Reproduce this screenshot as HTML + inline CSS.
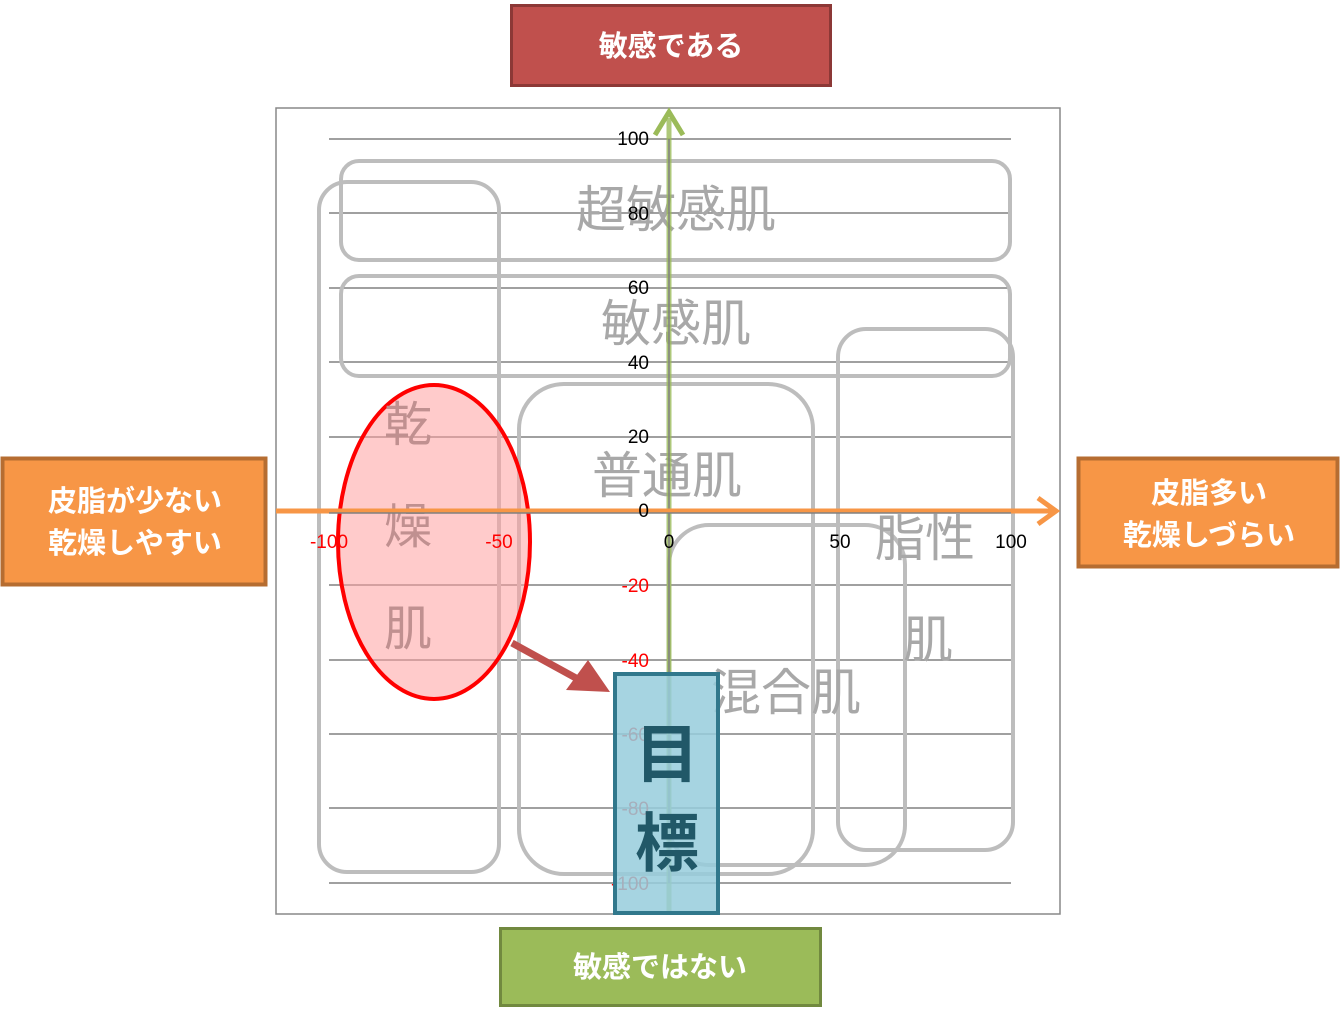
<!DOCTYPE html>
<html><head><meta charset="utf-8"><style>
html,body{margin:0;padding:0;background:#fff;width:1341px;height:1010px;overflow:hidden}
svg text{font-family:"Liberation Sans","Noto Sans CJK JP",sans-serif}
</style></head><body>
<svg width="1341" height="1010" viewBox="0 0 1341 1010" xmlns="http://www.w3.org/2000/svg">
<rect x="276" y="108" width="784" height="806" fill="#fff" stroke="#888" stroke-width="1.5"/>
<g stroke="#808080" stroke-width="1.5">
<line x1="329" y1="139" x2="1011" y2="139"/><line x1="329" y1="213" x2="1011" y2="213"/>
<line x1="329" y1="288" x2="1011" y2="288"/><line x1="329" y1="362" x2="1011" y2="362"/>
<line x1="329" y1="437" x2="1011" y2="437"/><line x1="329" y1="585" x2="1011" y2="585"/>
<line x1="329" y1="660" x2="1011" y2="660"/><line x1="329" y1="734" x2="1011" y2="734"/>
<line x1="329" y1="808" x2="1011" y2="808"/><line x1="329" y1="883" x2="1011" y2="883"/>
</g>
<g fill="none" stroke="#bdbdbd" stroke-width="4">
<rect x="319" y="182" width="180" height="690" rx="28"/>
<rect x="341" y="161" width="669" height="99" rx="18"/>
<rect x="341" y="276" width="669" height="100" rx="18"/>
<rect x="519" y="384" width="294" height="490" rx="45"/>
<rect x="838" y="329" width="175" height="521" rx="28"/>
<rect x="669" y="525" width="236" height="340" rx="40"/>
</g>
<g fill="#a8a8a8" font-size="50">
<text x="676" y="227" text-anchor="middle">超敏感肌</text>
<text x="676" y="341" text-anchor="middle">敏感肌</text>
<text x="667" y="493" text-anchor="middle">普通肌</text>
<text x="786" y="710" text-anchor="middle">混合肌</text>
<text x="925" y="556" text-anchor="middle">脂性</text>
<text x="928" y="657" text-anchor="middle">肌</text>
</g>
<ellipse cx="434" cy="542" rx="96" ry="157" fill="rgba(255,160,160,0.55)" stroke="#f00" stroke-width="4"/>
<g fill="#c09090" font-size="48" text-anchor="middle">
<text x="408" y="441">乾</text><text x="408" y="543">燥</text><text x="408" y="645">肌</text>
</g>
<line x1="669" y1="914" x2="669" y2="118" stroke="#9bbb59" stroke-width="5" opacity="0.8"/>
<path d="M655,135 L669,112 L683,135" fill="none" stroke="#9bbb59" stroke-width="5"/>
<line x1="669" y1="139" x2="669" y2="883" stroke="#808080" stroke-width="1.5"/>
<line x1="276" y1="511" x2="1052" y2="511" stroke="#f79646" stroke-width="5"/>
<path d="M1038,498 L1056,511 L1038,524" fill="none" stroke="#f79646" stroke-width="5"/>
<line x1="329" y1="513" x2="1011" y2="513" stroke="#808080" stroke-width="1.5"/>
<g font-size="19" fill="#000">
<text x="649" y="145" text-anchor="end">100</text><text x="649" y="220" text-anchor="end">80</text>
<text x="649" y="294" text-anchor="end">60</text><text x="649" y="369" text-anchor="end">40</text>
<text x="649" y="443" text-anchor="end">20</text><text x="649" y="517" text-anchor="end">0</text>
<text x="669" y="548" text-anchor="middle">0</text><text x="840" y="548" text-anchor="middle">50</text>
<text x="1011" y="548" text-anchor="middle">100</text>
</g>
<g font-size="19" fill="#f00">
<text x="329" y="548" text-anchor="middle">-100</text><text x="499" y="548" text-anchor="middle">-50</text>
<text x="649" y="592" text-anchor="end">-20</text><text x="649" y="667" text-anchor="end">-40</text>
<text x="649" y="741" text-anchor="end">-60</text><text x="649" y="815" text-anchor="end">-80</text>
<text x="649" y="890" text-anchor="end">-100</text>
</g>
<path d="M512,643 L585,683" stroke="#c0504d" stroke-width="7"/>
<path d="M566,690 L610,692 L588,660 Z" fill="#c0504d"/>
<rect x="615" y="674" width="103" height="239" fill="rgba(150,205,220,0.85)" stroke="#31788c" stroke-width="4"/>
<g font-size="64" font-weight="bold" fill="#215868" text-anchor="middle">
<text x="667" y="777">目</text><text x="667" y="866">標</text>
</g>
<rect x="511.5" y="5.5" width="319" height="80" fill="#c0504d" stroke="#8c3836" stroke-width="3"/>
<text x="671" y="56" font-size="29" font-weight="bold" fill="#fff" text-anchor="middle">敏感である</text>
<rect x="500.5" y="928.5" width="320" height="77" fill="#9bbb59" stroke="#71893f" stroke-width="3"/>
<text x="660" y="977" font-size="29" font-weight="bold" fill="#fff" text-anchor="middle">敏感ではない</text>
<rect x="2.5" y="458.5" width="263" height="126" fill="#f79646" stroke="#b66d31" stroke-width="4"/>
<text x="135" y="511" font-size="29" font-weight="bold" fill="#fff" text-anchor="middle">皮脂が少ない</text>
<text x="135" y="553" font-size="29" font-weight="bold" fill="#fff" text-anchor="middle">乾燥しやすい</text>
<rect x="1078.5" y="458.5" width="259" height="108" fill="#f79646" stroke="#b66d31" stroke-width="4"/>
<text x="1209" y="503" font-size="29" font-weight="bold" fill="#fff" text-anchor="middle">皮脂多い</text>
<text x="1209" y="545" font-size="29" font-weight="bold" fill="#fff" text-anchor="middle">乾燥しづらい</text>
</svg>
</body></html>
